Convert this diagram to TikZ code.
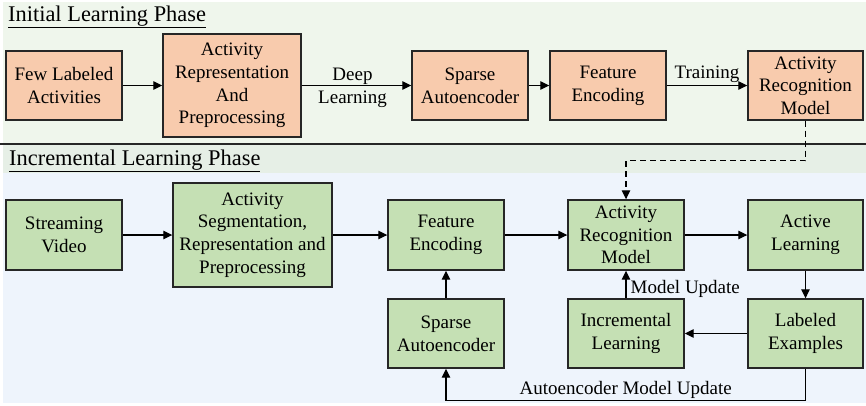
\documentclass[tikz,border=0pt]{standalone}
\usepackage{fontspec}
\setmainfont{Liberation Serif}
\usepackage{xcolor}
\usetikzlibrary{arrows.meta}
\definecolor{initbg}{HTML}{EFF6EC}
\definecolor{bandbg}{HTML}{E6EFE6}
\definecolor{incbg}{HTML}{EEF4FC}
\definecolor{boxorange}{HTML}{F8CBAD}
\definecolor{boxgreen}{HTML}{C5E0B4}
\definecolor{edge}{HTML}{262626}

\begin{document}
\begin{tikzpicture}[x=1pt,y=-1pt,
  box/.style={draw=edge, line width=1.4pt, align=center, inner sep=2pt,
    font=\fontsize{19}{22.7}\selectfont},
  initbox/.style={box, fill=boxorange},
  incbox/.style={box, fill=boxgreen},
  flow/.style={line width=1.3pt, -{Triangle[length=9pt,width=8.5pt]}},
  lbl/.style={font=\fontsize{19}{22.7}\selectfont, align=center, inner sep=1pt},
  phase/.style={anchor=base west, inner sep=0pt, font=\fontsize{22.4}{26}\selectfont}]
\useasboundingbox (0,0) rectangle (866,405);
%\draw[step=50,lightgray,thin] (0,0) grid (866,405);

% panels
\fill[initbg] (3,2) rectangle (866,144);
\fill[bandbg] (3,144) rectangle (866,173);
\fill[incbg] (3,173) rectangle (866,403);
\draw[line width=1.2pt, edge] (0,144) -- (866,144);

\node[phase] (tinit) at (8,21) {\underline{Initial Learning Phase}};
\node[phase] (tinc) at (9,165) {\underline{Incremental Learning Phase}};

% initial learning phase
\node[initbox, minimum width=116, minimum height=69] (few) at (64,85.5) {Few Labeled\\Activities};
\node[initbox, minimum width=138, minimum height=103] (rep) at (232,85.5) {Activity\\Representation\\And\\Preprocessing};
\node[initbox, minimum width=116, minimum height=69] (sae) at (470,85.5) {Sparse\\Autoencoder};
\node[initbox, minimum width=116, minimum height=69] (fenc) at (608,85.5) {Feature\\Encoding};
\node[initbox, minimum width=115, minimum height=69] (arm) at (805.5,85.5) {Activity\\Recognition\\Model};

\draw[flow] (few) -- (rep);
\draw[flow] (rep) -- (sae) node[lbl, midway, xshift=-4pt, yshift=-2pt] {Deep\\Learning};
\draw[flow] (sae) -- (fenc);
\draw[flow] (fenc) -- (arm) node[lbl, midway, above, yshift=1pt] {Training};

% incremental learning phase
\node[incbox, minimum width=116, minimum height=70] (video) at (64,235) {Streaming\\Video};
\node[incbox, minimum width=159, minimum height=104] (seg) at (252.5,235) {Activity\\Segmentation,\\Representation and\\Preprocessing};
\node[incbox, minimum width=116, minimum height=70] (fe2) at (446,235) {Feature\\Encoding};
\node[incbox, minimum width=116, minimum height=70] (arm2) at (626,235) {Activity\\Recognition\\Model};
\node[incbox, minimum width=115, minimum height=70] (al) at (805.5,235) {Active\\Learning};
\node[incbox, minimum width=116, minimum height=69] (sae2) at (446,333.5) {Sparse\\Autoencoder};
\node[incbox, minimum width=116, minimum height=69] (il) at (626,333.5) {Incremental\\Learning};
\node[incbox, minimum width=115, minimum height=69] (lab) at (805.5,333.5) {Labeled\\Examples};

\draw[flow] (video) -- (seg);
\draw[flow] (seg) -- (fe2);
\draw[flow] (fe2) -- (arm2);
\draw[flow] (arm2) -- (al);
\draw[flow] (al) -- (lab);
\draw[flow] (lab) -- (il);
\draw[flow] (sae2) -- (fe2);
\draw[flow] (il) -- (arm2) node[lbl, pos=0.35, right, xshift=3pt] {Model Update};
\draw[flow] (lab.south) -- ++(0,32) -| (sae2.south) node[lbl, pos=0.25, above, yshift=1pt] {Autoencoder Model Update};

% transfer of the trained model
\draw[flow, dash pattern=on 6pt off 4pt] (arm.south) -- ++(0,40) -| (arm2.north);

\end{tikzpicture}
\end{document}
